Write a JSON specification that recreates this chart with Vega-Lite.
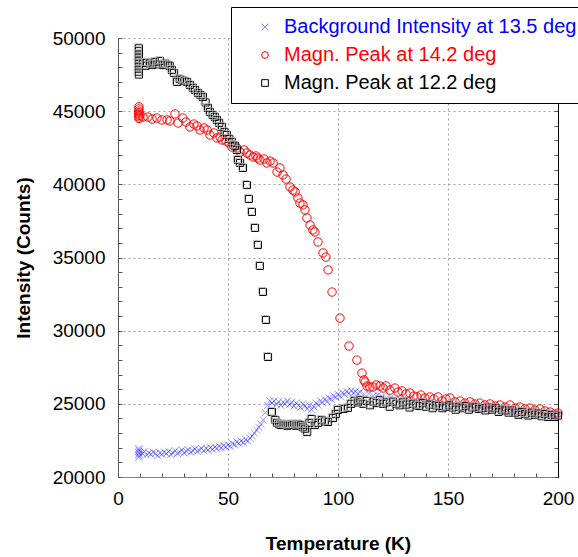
{
  "$schema": "https://vega.github.io/schema/vega-lite/v6.json",
  "width": 440,
  "height": 439,
  "autosize": "none",
  "padding": {"left": 118, "top": 38, "right": 20, "bottom": 80},
  "background": "white",
  "config": {
    "view": {"stroke": null},
    "font": "Liberation Sans",
    "axis": {"labelFont": "Liberation Sans", "labelFontSize": 19, "labelColor": "black", "titleFont": "Liberation Sans", "titleFontSize": 19, "titleFontWeight": "bold", "titleColor": "black"}
  },
  "data": {"values": [
    {"series":"bg","T":9.5,"I":21950},{"series":"bg","T":9.5,"I":21850},{"series":"bg","T":9.5,"I":21750},{"series":"bg","T":9.5,"I":21650},{"series":"bg","T":9.5,"I":21550},{"series":"bg","T":9.5,"I":21450},{"series":"bg","T":9.5,"I":21350},
    {"series":"bg","T":11,"I":21600},{"series":"bg","T":12,"I":21750},{"series":"bg","T":13,"I":21500},{"series":"bg","T":14,"I":21650},{"series":"bg","T":15,"I":21550},{"series":"bg","T":16,"I":21700},{"series":"bg","T":17,"I":21600},{"series":"bg","T":18,"I":21450},{"series":"bg","T":19,"I":21650},{"series":"bg","T":20,"I":21550},
    {"series":"bg","T":21,"I":21700},{"series":"bg","T":22,"I":21600},{"series":"bg","T":23,"I":21750},{"series":"bg","T":24,"I":21550},{"series":"bg","T":25,"I":21650},{"series":"bg","T":26,"I":21800},{"series":"bg","T":27,"I":21600},{"series":"bg","T":28,"I":21700},{"series":"bg","T":29,"I":21850},{"series":"bg","T":30,"I":21650},
    {"series":"bg","T":31,"I":21750},{"series":"bg","T":32,"I":21850},{"series":"bg","T":33,"I":21700},{"series":"bg","T":34,"I":21800},{"series":"bg","T":35,"I":21900},{"series":"bg","T":36,"I":21750},{"series":"bg","T":37,"I":21850},{"series":"bg","T":38,"I":21950},{"series":"bg","T":39,"I":21800},{"series":"bg","T":40,"I":21950},
    {"series":"bg","T":41,"I":21850},{"series":"bg","T":42,"I":22000},{"series":"bg","T":43,"I":21900},{"series":"bg","T":44,"I":22050},{"series":"bg","T":45,"I":21950},{"series":"bg","T":46,"I":22100},{"series":"bg","T":47,"I":22000},{"series":"bg","T":48,"I":22150},{"series":"bg","T":49,"I":22050},{"series":"bg","T":50,"I":22200},
    {"series":"bg","T":51,"I":22100},{"series":"bg","T":52,"I":22300},{"series":"bg","T":53,"I":22200},{"series":"bg","T":54,"I":22400},{"series":"bg","T":55,"I":22300},{"series":"bg","T":56,"I":22450},{"series":"bg","T":57,"I":22350},{"series":"bg","T":58,"I":22550},{"series":"bg","T":59,"I":22450},{"series":"bg","T":60,"I":22650},
    {"series":"bg","T":61,"I":22800},{"series":"bg","T":62,"I":23000},{"series":"bg","T":63,"I":23200},{"series":"bg","T":64,"I":23400},{"series":"bg","T":65,"I":23600},{"series":"bg","T":66,"I":23900},{"series":"bg","T":67,"I":24400},{"series":"bg","T":68,"I":24900},{"series":"bg","T":69,"I":25200},{"series":"bg","T":70,"I":25050},
    {"series":"bg","T":71,"I":25200},{"series":"bg","T":72,"I":24950},{"series":"bg","T":73,"I":25150},{"series":"bg","T":74,"I":24900},{"series":"bg","T":75,"I":25100},{"series":"bg","T":76,"I":25000},{"series":"bg","T":77,"I":25200},{"series":"bg","T":78,"I":24950},{"series":"bg","T":79,"I":25100},{"series":"bg","T":80,"I":24850},
    {"series":"bg","T":81,"I":25050},{"series":"bg","T":82,"I":24900},{"series":"bg","T":83,"I":24750},{"series":"bg","T":84,"I":25000},{"series":"bg","T":85,"I":24850},{"series":"bg","T":86,"I":24650},{"series":"bg","T":87,"I":24900},{"series":"bg","T":88,"I":24600},{"series":"bg","T":89,"I":24800},{"series":"bg","T":90,"I":25050},
    {"series":"bg","T":91,"I":24900},{"series":"bg","T":92,"I":25200},{"series":"bg","T":93,"I":25100},{"series":"bg","T":94,"I":25300},{"series":"bg","T":95,"I":25150},{"series":"bg","T":96,"I":25400},{"series":"bg","T":97,"I":25300},{"series":"bg","T":98,"I":25550},{"series":"bg","T":99,"I":25450},{"series":"bg","T":100,"I":25650},
    {"series":"bg","T":101,"I":25500},{"series":"bg","T":102,"I":25750},{"series":"bg","T":103,"I":25650},{"series":"bg","T":104,"I":25850},{"series":"bg","T":105,"I":25700},{"series":"bg","T":106,"I":25900},{"series":"bg","T":107,"I":25750},{"series":"bg","T":108,"I":25850},{"series":"bg","T":109,"I":25700},{"series":"bg","T":110,"I":25800},
    {"series":"bg","T":112,"I":25650},{"series":"bg","T":114,"I":25700},{"series":"bg","T":116,"I":25550},{"series":"bg","T":118,"I":25600},{"series":"bg","T":120,"I":25500},{"series":"bg","T":122,"I":25400},{"series":"bg","T":124,"I":25450},{"series":"bg","T":126,"I":25300},{"series":"bg","T":128,"I":25350},{"series":"bg","T":130,"I":25200},
    {"series":"bg","T":132,"I":25300},{"series":"bg","T":134,"I":25150},{"series":"bg","T":136,"I":25200},{"series":"bg","T":138,"I":25100},{"series":"bg","T":140,"I":25150},{"series":"bg","T":142,"I":25000},{"series":"bg","T":144,"I":25100},{"series":"bg","T":146,"I":24950},{"series":"bg","T":148,"I":25000},{"series":"bg","T":150,"I":24900},
    {"series":"bg","T":152,"I":24950},{"series":"bg","T":154,"I":24850},{"series":"bg","T":156,"I":24900},{"series":"bg","T":158,"I":24800},{"series":"bg","T":160,"I":24850},{"series":"bg","T":162,"I":24700},{"series":"bg","T":164,"I":24800},{"series":"bg","T":166,"I":24650},{"series":"bg","T":168,"I":24700},{"series":"bg","T":170,"I":24600},
    {"series":"bg","T":172,"I":24650},{"series":"bg","T":174,"I":24500},{"series":"bg","T":176,"I":24550},{"series":"bg","T":178,"I":24450},{"series":"bg","T":180,"I":24500},{"series":"bg","T":182,"I":24400},{"series":"bg","T":184,"I":24450},{"series":"bg","T":186,"I":24350},{"series":"bg","T":188,"I":24400},{"series":"bg","T":190,"I":24300},
    {"series":"bg","T":192,"I":24350},{"series":"bg","T":194,"I":24250},{"series":"bg","T":196,"I":24300},{"series":"bg","T":198,"I":24200},{"series":"bg","T":200,"I":24250},

    {"series":"p14","T":9.5,"I":45300},{"series":"p14","T":9.5,"I":45150},{"series":"p14","T":9.5,"I":45000},{"series":"p14","T":9.5,"I":44900},{"series":"p14","T":9.5,"I":44800},{"series":"p14","T":9.5,"I":44700},{"series":"p14","T":9.5,"I":44600},{"series":"p14","T":9.5,"I":44500},
    {"series":"p14","T":11.4,"I":44600},{"series":"p14","T":13.6,"I":44600},{"series":"p14","T":15.5,"I":44460},{"series":"p14","T":17.7,"I":44530},{"series":"p14","T":20,"I":44400},{"series":"p14","T":22.3,"I":44400},{"series":"p14","T":23.6,"I":44330},{"series":"p14","T":25.9,"I":44810},{"series":"p14","T":27.3,"I":44190},{"series":"p14","T":29.5,"I":44530},
    {"series":"p14","T":30.9,"I":44260},{"series":"p14","T":32.7,"I":43920},{"series":"p14","T":34.5,"I":44120},{"series":"p14","T":35.9,"I":43990},{"series":"p14","T":37.3,"I":43710},{"series":"p14","T":39.1,"I":43850},{"series":"p14","T":40.5,"I":43710},{"series":"p14","T":41.8,"I":43370},{"series":"p14","T":43.6,"I":43510},{"series":"p14","T":45,"I":43170},
    {"series":"p14","T":46.4,"I":43230},{"series":"p14","T":47.3,"I":43030},{"series":"p14","T":49.1,"I":42960},{"series":"p14","T":50.5,"I":42820},{"series":"p14","T":51.8,"I":42550},{"series":"p14","T":53.2,"I":42620},{"series":"p14","T":54.1,"I":42480},{"series":"p14","T":55.5,"I":42210},{"series":"p14","T":57.3,"I":42350},{"series":"p14","T":58.6,"I":42140},
    {"series":"p14","T":60,"I":42000},{"series":"p14","T":61.4,"I":41870},{"series":"p14","T":62.7,"I":41940},{"series":"p14","T":63.6,"I":41800},{"series":"p14","T":64.5,"I":41660},{"series":"p14","T":66.4,"I":41730},{"series":"p14","T":67.7,"I":41460},{"series":"p14","T":69.1,"I":41590},{"series":"p14","T":70.5,"I":41460},{"series":"p14","T":72.3,"I":40840},
    {"series":"p14","T":73.6,"I":41120},{"series":"p14","T":75,"I":40640},{"series":"p14","T":76.4,"I":40360},{"series":"p14","T":78.2,"I":39820},{"series":"p14","T":79.5,"I":39610},{"series":"p14","T":80.5,"I":39480},{"series":"p14","T":81.8,"I":39070},{"series":"p14","T":82.7,"I":38720},{"series":"p14","T":84.1,"I":38590},{"series":"p14","T":85,"I":38250},
    {"series":"p14","T":85.9,"I":37700},{"series":"p14","T":87.3,"I":37220},{"series":"p14","T":88.6,"I":36880},{"series":"p14","T":89.5,"I":36740},{"series":"p14","T":90.9,"I":36060},{"series":"p14","T":93.2,"I":35310},{"series":"p14","T":94.5,"I":35030},{"series":"p14","T":95.5,"I":34150},{"series":"p14","T":97.3,"I":32640},{"series":"p14","T":100.9,"I":30860},
    {"series":"p14","T":105,"I":28950},{"series":"p14","T":108.6,"I":27990},{"series":"p14","T":110.9,"I":27100},{"series":"p14","T":111.8,"I":26630},{"series":"p14","T":112.3,"I":26490},{"series":"p14","T":113.2,"I":26220},{"series":"p14","T":114.5,"I":26150},{"series":"p14","T":115.9,"I":26150},{"series":"p14","T":117.3,"I":26290},{"series":"p14","T":119.1,"I":26220},
    {"series":"p14","T":120.5,"I":26080},{"series":"p14","T":121.8,"I":26220},{"series":"p14","T":123.6,"I":25940},{"series":"p14","T":125.9,"I":26080},{"series":"p14","T":127.3,"I":25810},{"series":"p14","T":129.1,"I":25880},{"series":"p14","T":130.9,"I":25670},{"series":"p14","T":132.7,"I":25740},{"series":"p14","T":134.5,"I":25530},{"series":"p14","T":135.9,"I":25470},
    {"series":"p14","T":137.7,"I":25600},{"series":"p14","T":139.5,"I":25400},{"series":"p14","T":141.8,"I":25470},{"series":"p14","T":143.6,"I":25330},{"series":"p14","T":145.5,"I":25470},{"series":"p14","T":147.3,"I":25190},{"series":"p14","T":149.1,"I":25330},{"series":"p14","T":150.9,"I":25400},{"series":"p14","T":153.2,"I":25130},{"series":"p14","T":155.5,"I":25190},
    {"series":"p14","T":157.7,"I":25050},{"series":"p14","T":160,"I":25130},{"series":"p14","T":162.3,"I":24990},{"series":"p14","T":164.5,"I":25050},{"series":"p14","T":166.8,"I":24920},{"series":"p14","T":169.1,"I":24990},{"series":"p14","T":171.4,"I":24850},{"series":"p14","T":173.6,"I":24920},{"series":"p14","T":175.9,"I":24780},{"series":"p14","T":178.2,"I":24920},
    {"series":"p14","T":180.5,"I":24710},{"series":"p14","T":182.7,"I":24780},{"series":"p14","T":185,"I":24650},{"series":"p14","T":187.3,"I":24710},{"series":"p14","T":189.5,"I":24580},{"series":"p14","T":191.8,"I":24650},{"series":"p14","T":194.1,"I":24510},{"series":"p14","T":196.4,"I":24440},{"series":"p14","T":198.6,"I":24300},{"series":"p14","T":200,"I":24370},

    {"series":"p12","T":9.5,"I":49300},{"series":"p12","T":9.5,"I":49100},{"series":"p12","T":9.5,"I":48900},{"series":"p12","T":9.5,"I":48700},{"series":"p12","T":9.5,"I":48500},{"series":"p12","T":9.5,"I":48300},{"series":"p12","T":9.5,"I":48100},{"series":"p12","T":9.5,"I":47900},{"series":"p12","T":9.5,"I":47700},{"series":"p12","T":9.5,"I":47500},
    {"series":"p12","T":11.4,"I":48290},{"series":"p12","T":12.5,"I":48100},{"series":"p12","T":13.2,"I":48300},{"series":"p12","T":14.5,"I":48250},{"series":"p12","T":15.5,"I":48150},{"series":"p12","T":16.8,"I":48350},{"series":"p12","T":18,"I":48200},{"series":"p12","T":19.1,"I":48430},{"series":"p12","T":20.5,"I":48150},{"series":"p12","T":21.5,"I":48250},
    {"series":"p12","T":22.7,"I":48150},{"series":"p12","T":23.5,"I":48100},{"series":"p12","T":24.5,"I":47810},{"series":"p12","T":25.5,"I":47600},{"series":"p12","T":26.8,"I":47000},{"series":"p12","T":28,"I":47200},{"series":"p12","T":29.1,"I":47130},{"series":"p12","T":30.2,"I":47050},{"series":"p12","T":31.4,"I":47000},{"series":"p12","T":32.7,"I":46790},
    {"series":"p12","T":34,"I":46600},{"series":"p12","T":35,"I":46450},{"series":"p12","T":36.4,"I":46240},{"series":"p12","T":37.5,"I":46100},{"series":"p12","T":38.6,"I":45970},{"series":"p12","T":39.8,"I":45600},{"series":"p12","T":40.9,"I":45220},{"series":"p12","T":41.8,"I":44940},{"series":"p12","T":43,"I":44740},{"series":"p12","T":44,"I":44600},
    {"series":"p12","T":45,"I":44400},{"series":"p12","T":46,"I":44200},{"series":"p12","T":47.3,"I":43920},{"series":"p12","T":48.4,"I":43580},{"series":"p12","T":49.5,"I":43370},{"series":"p12","T":50.6,"I":43100},{"series":"p12","T":51.8,"I":42890},{"series":"p12","T":52.5,"I":42690},{"series":"p12","T":53.2,"I":42620},{"series":"p12","T":54,"I":42350},
    {"series":"p12","T":54.5,"I":41660},{"series":"p12","T":55.5,"I":41460},{"series":"p12","T":56.8,"I":41120},{"series":"p12","T":58.6,"I":39950},{"series":"p12","T":59.5,"I":39000},{"series":"p12","T":60.9,"I":38110},{"series":"p12","T":62.3,"I":37020},{"series":"p12","T":63.6,"I":35860},{"series":"p12","T":64.5,"I":34420},{"series":"p12","T":65.9,"I":32650},
    {"series":"p12","T":67.3,"I":30730},{"series":"p12","T":68.2,"I":28200},{"series":"p12","T":70,"I":24440},{"series":"p12","T":71.5,"I":23900},{"series":"p12","T":72.3,"I":23700},{"series":"p12","T":73.2,"I":23600},{"series":"p12","T":74,"I":23550},{"series":"p12","T":75,"I":23600},{"series":"p12","T":76,"I":23550},{"series":"p12","T":77,"I":23500},
    {"series":"p12","T":78,"I":23550},{"series":"p12","T":79,"I":23600},{"series":"p12","T":80,"I":23550},{"series":"p12","T":81,"I":23500},{"series":"p12","T":82,"I":23600},{"series":"p12","T":83,"I":23550},{"series":"p12","T":84,"I":23400},{"series":"p12","T":85,"I":23300},{"series":"p12","T":86,"I":23070},{"series":"p12","T":87,"I":23700},
    {"series":"p12","T":88,"I":23960},{"series":"p12","T":89.5,"I":23550},{"series":"p12","T":91,"I":23700},{"series":"p12","T":92.7,"I":23890},{"series":"p12","T":94,"I":23800},{"series":"p12","T":95.5,"I":23760},{"series":"p12","T":97.7,"I":24030},{"series":"p12","T":99,"I":24300},{"series":"p12","T":100,"I":24580},{"series":"p12","T":102.5,"I":24650},
    {"series":"p12","T":104.5,"I":24720},{"series":"p12","T":106,"I":25000},{"series":"p12","T":107.5,"I":25200},{"series":"p12","T":109,"I":25100},{"series":"p12","T":110,"I":25250},{"series":"p12","T":111.5,"I":25000},{"series":"p12","T":113,"I":25200},{"series":"p12","T":114.5,"I":24900},{"series":"p12","T":116,"I":25150},{"series":"p12","T":117.5,"I":25050},
    {"series":"p12","T":119,"I":25250},{"series":"p12","T":120.5,"I":25000},{"series":"p12","T":122,"I":25100},{"series":"p12","T":123.5,"I":24800},{"series":"p12","T":125,"I":25150},{"series":"p12","T":126.5,"I":25000},{"series":"p12","T":128,"I":24900},{"series":"p12","T":129.5,"I":25100},{"series":"p12","T":131,"I":24950},{"series":"p12","T":132.5,"I":24750},
    {"series":"p12","T":134,"I":25000},{"series":"p12","T":135.5,"I":24900},{"series":"p12","T":137,"I":24850},{"series":"p12","T":138.5,"I":25050},{"series":"p12","T":140,"I":24800},{"series":"p12","T":141.5,"I":24950},{"series":"p12","T":143,"I":24700},{"series":"p12","T":144.5,"I":24900},{"series":"p12","T":146,"I":24850},{"series":"p12","T":147.5,"I":24700},
    {"series":"p12","T":149,"I":24800},{"series":"p12","T":150.5,"I":24900},{"series":"p12","T":152,"I":24750},{"series":"p12","T":153.5,"I":24600},{"series":"p12","T":155,"I":24800},{"series":"p12","T":156.5,"I":24700},{"series":"p12","T":158,"I":24850},{"series":"p12","T":159.5,"I":24600},{"series":"p12","T":161,"I":24750},{"series":"p12","T":162.5,"I":24800},
    {"series":"p12","T":164,"I":24650},{"series":"p12","T":165.5,"I":24700},{"series":"p12","T":167,"I":24550},{"series":"p12","T":168.5,"I":24750},{"series":"p12","T":170,"I":24600},{"series":"p12","T":171.5,"I":24700},{"series":"p12","T":173,"I":24450},{"series":"p12","T":174.5,"I":24600},{"series":"p12","T":176,"I":24550},{"series":"p12","T":177.5,"I":24400},
    {"series":"p12","T":179,"I":24550},{"series":"p12","T":180.5,"I":24400},{"series":"p12","T":182,"I":24250},{"series":"p12","T":183.5,"I":24450},{"series":"p12","T":185,"I":24300},{"series":"p12","T":186.5,"I":24200},{"series":"p12","T":188,"I":24400},{"series":"p12","T":189.5,"I":24250},{"series":"p12","T":191,"I":24350},{"series":"p12","T":192.5,"I":24150},
    {"series":"p12","T":194,"I":24300},{"series":"p12","T":195.5,"I":24100},{"series":"p12","T":197,"I":24250},{"series":"p12","T":198.5,"I":24100},{"series":"p12","T":200,"I":24200}
  ]},
  "resolve": {"axis": {"x": "independent", "y": "independent"}},
  "layer": [
    {
      "mark": {"type": "point", "filled": false, "strokeWidth": 1, "clip": false},
      "encoding": {
        "x": {"field": "T", "type": "quantitative", "scale": {"domain": [0, 200], "nice": false},
              "axis": {"orient": "bottom", "values": [0, 50, 100, 150, 200], "title": "Temperature (K)", "titlePadding": 26, "labelPadding": 12, "ticks": false, "domain": true, "domainColor": "#808080", "grid": true, "gridColor": "#a0a0a0", "gridDash": [2, 3], "labelFlush": false}},
        "y": {"field": "I", "type": "quantitative", "scale": {"domain": [20000, 50000], "nice": false, "zero": false},
              "axis": {"orient": "left", "values": [20000, 25000, 30000, 35000, 40000, 45000, 50000], "format": "d", "title": "Intensity (Counts)", "titlePadding": 19, "labelPadding": 13, "ticks": false, "domain": false, "grid": true, "gridColor": "#a0a0a0", "gridDash": [2, 3], "labelFlush": false}},
        "color": {"field": "series", "type": "nominal",
                  "scale": {"domain": ["bg", "p14", "p12"], "range": ["#0000ff", "#ff0000", "#000000"]},
                  "legend": {"orient": "none", "legendX": 113, "legendY": -31, "direction": "vertical", "title": null,
                             "labelExpr": "datum.value === 'bg' ? 'Background Intensity at 13.5 deg' : datum.value === 'p14' ? 'Magn. Peak at 14.2 deg' : 'Magn. Peak at 12.2 deg'",
                             "labelFont": "Liberation Sans", "labelFontSize": 20, "labelLimit": 400, "labelOffset": 9,
                             "labelColor": {"expr": "datum.value === 'bg' ? '#0000ff' : datum.value === 'p14' ? '#ff0000' : '#000000'"},
                             "symbolOpacity": {"expr": "datum.value === 'bg' ? 0.45 : 1"},
                             "strokeColor": "black", "fillColor": "white", "padding": 10, "rowPadding": 8, "symbolOffset": 14, "symbolSize": 45, "symbolStrokeWidth": 1}},
        "shape": {"field": "series", "type": "nominal",
                  "scale": {"domain": ["bg", "p14", "p12"], "range": ["M-1,-1L1,1M-1,1L1,-1", "circle", "square"]}},
        "opacity": {"condition": {"test": "datum.series === 'bg'", "value": 0.4}, "value": 1},
        "size": {"condition": {"test": "datum.series === 'p14'", "value": 70}, "value": 50}
      }
    },
    {
      "transform": [{"filter": "datum.series === 'p12'"}],
      "mark": {"type": "point", "shape": "square", "filled": false, "strokeWidth": 1, "color": "#b0b0b0", "size": 50, "xOffset": -1, "yOffset": -1, "clip": false},
      "encoding": {
        "x": {"field": "T", "type": "quantitative", "scale": {"domain": [0, 200], "nice": false},
              "axis": {"orient": "top", "values": [0, 50, 100, 150, 200], "labels": false, "ticks": false, "domain": false, "grid": false, "title": null}},
        "y": {"field": "I", "type": "quantitative", "scale": {"domain": [20000, 50000], "nice": false, "zero": false},
              "axis": {"orient": "right", "values": [20000,21000,22000,23000,24000,25000,26000,27000,28000,29000,30000,31000,32000,33000,34000,35000,36000,37000,38000,39000,40000,41000,42000,43000,44000,45000,46000,47000,48000,49000,50000], "labels": false, "ticks": true, "tickSize": -4, "tickColor": "#555", "domain": true, "domainColor": "#000", "grid": false, "title": null}}
      }
    },
    {
      "transform": [{"filter": "false"}],
      "mark": {"type": "point"},
      "encoding": {
        "x": {"field": "T", "type": "quantitative", "scale": {"domain": [0, 200], "nice": false},
              "axis": {"orient": "bottom", "values": [0, 10, 20, 30, 40, 50, 60, 70, 80, 90, 100, 110, 120, 130, 140, 150, 160, 170, 180, 190, 200], "labels": false, "ticks": true, "tickSize": -4, "tickColor": "#555", "domain": true, "domainColor": "#808080", "grid": false, "title": null}},
        "y": {"field": "I", "type": "quantitative", "scale": {"domain": [20000, 50000], "nice": false, "zero": false},
              "axis": {"orient": "left", "values": [20000,21000,22000,23000,24000,25000,26000,27000,28000,29000,30000,31000,32000,33000,34000,35000,36000,37000,38000,39000,40000,41000,42000,43000,44000,45000,46000,47000,48000,49000,50000], "labels": false, "ticks": true, "tickSize": -4, "tickColor": "#555", "domain": true, "domainColor": "#555", "grid": false, "title": null}}
      }
    }
  ]
}
